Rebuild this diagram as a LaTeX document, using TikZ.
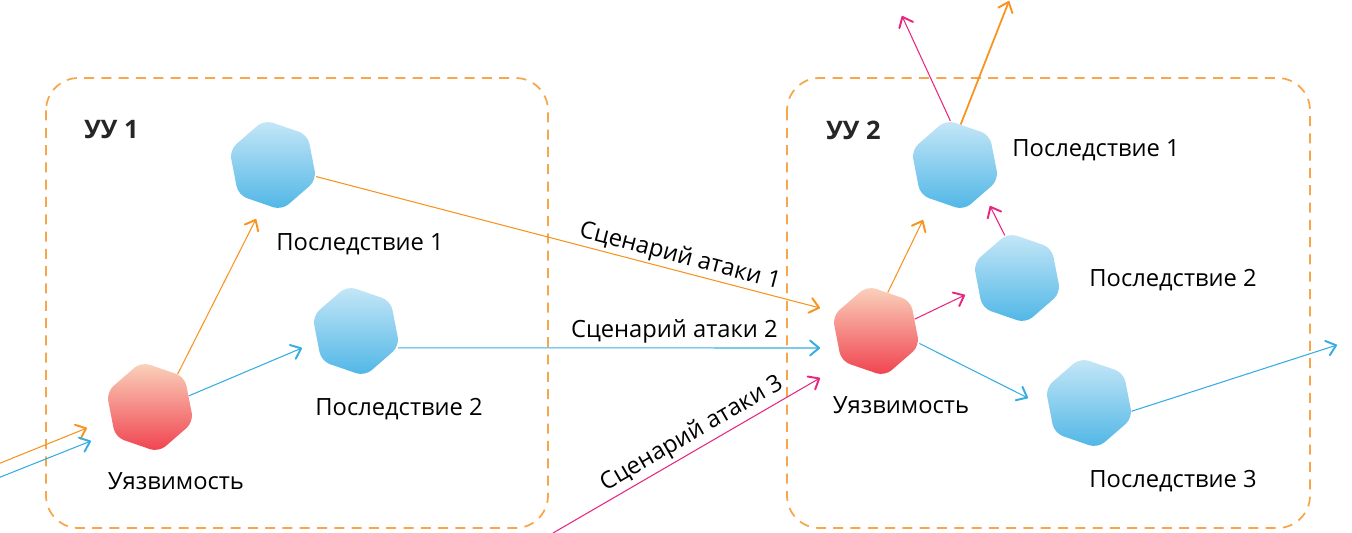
\documentclass[tikz,border=0pt]{standalone}
\usepackage{fontspec}
\setmainfont{Open Sans}
\usetikzlibrary{arrows.meta, shapes.geometric}
\definecolor{boxorange}{HTML}{F7A64B}
\definecolor{lineorange}{HTML}{F7931E}
\definecolor{lineblue}{HTML}{35ADE3}
\definecolor{linepink}{HTML}{E9267F}
\definecolor{hexbluetop}{HTML}{C6E7F7}
\definecolor{hexbluebottom}{HTML}{4FB6E6}
\definecolor{hexredtop}{HTML}{FAD4BD}
\definecolor{hexredbottom}{HTML}{F0414E}
\tikzset{
  hex/.style = {shape=regular polygon, regular polygon sides=6,
                    shape border rotate=-19, rounded corners=1.8mm,
                    minimum size=18.4mm, inner sep=0pt},
  effect/.style = {hex, top color=hexbluetop, bottom color=hexbluebottom},
  vuln/.style = {hex, top color=hexredtop, bottom color=hexredbottom},
  zone/.style = {draw=boxorange, dash pattern=on 2mm off 1.46mm,
                    line width=1pt, rounded corners=6.5mm},
  caption/.style = {font=\fontsize{13.5}{16}\selectfont, inner sep=0pt, text=black},
  zonetitle/.style = {font=\fontsize{14.5}{17}\selectfont\bfseries, inner sep=0pt, text=black!85},
  link/.style = {-{Straight Barb[length=1.8mm, width=3mm, line width=1.1pt, round]}, line width=0.6pt},
  orangelink/.style = {link, lineorange},
  bluelink/.style = {link, lineblue},
  pinklink/.style = {link, linepink}
}

\begin{document}
\begin{tikzpicture}
  [
  x = 0.02cm,
  y = -0.02cm
  ]
\useasboundingbox (0,0) rectangle (1352,533);

% zones
\draw[zone] (46,78) rectangle (548,528);
\draw[zone] (787,78) rectangle (1310,528);
\node[zonetitle, anchor=west] (titleone) at (84,130) {УУ 1};
\node[zonetitle, anchor=west] (titletwo) at (826,130) {УУ 2};

% first device
\node[vuln] (vulnone) at (150,407) {};
\node[effect] (effectoneone) at (273,165) {};
\node[effect] (effectonetwo) at (356,331) {};
\node[caption] (vulnonetext) at (176,481) {Уязвимость};
\node[caption] (effectoneonetext) at (360,244) {Последствие 1};
\node[caption] (effectonetwotext) at (399,409) {Последствие 2};

% second device
\node[vuln] (vulntwo) at (876,331) {};
\node[effect] (effecttwoone) at (955,165) {};
\node[effect] (effecttwotwo) at (1017,278) {};
\node[effect] (effecttwothree) at (1089,403) {};
\node[caption] (vulntwotext) at (901,405) {Уязвимость};
\node[caption] (effecttwoonetext) at (1096,150) {Последствие 1};
\node[caption] (effecttwotwotext) at (1173,280) {Последствие 2};
\node[caption] (effecttwothreetext) at (1173,481) {Последствие 3};

% free ends
\coordinate (inorange) at (-2,464);
\coordinate (inblue) at (-2,478);
\coordinate (inpink) at (553,533);
\coordinate (tiporange) at (87,428);
\coordinate (tipblue) at (91,441);
\coordinate (upone) at (256,219);
\coordinate (uptwo) at (302,348);
\coordinate (scenone) at (820,308);
\coordinate (scentwo) at (820,348);
\coordinate (scenthree) at (820,378);
\coordinate (vulnup) at (923,220);
\coordinate (vulnright) at (965,295);
\coordinate (vulndown) at (1028,398);
\coordinate (twoup) at (990,206);
\coordinate (outpink) at (902,16);
\coordinate (outorange) at (1009,1);
\coordinate (outblue) at (1337,345);

\draw[orangelink] (inorange) -- (tiporange);
\draw[bluelink] (inblue) -- (tipblue);
\draw[orangelink] (vulnone.50) -- (upone);
\draw[bluelink] (vulnone.16) -- (uptwo);
\draw[orangelink] (effectoneone.-15) -- (scenone)
	node[caption, sloped, above=1pt, pos=0.715] (scenonetext) {Сценарий атаки 1};
\draw[bluelink] (effectonetwo.-22) -- (scentwo)
	node[caption, above=2.5pt, pos=0.655] (scentwotext) {Сценарий атаки 2};
\draw[pinklink] (inpink) -- (scenthree)
	node[caption, sloped, above=2pt, pos=0.55] (scenthreetext) {Сценарий атаки 3};
\draw[orangelink] (vulntwo.73) -- (vulnup);
\draw[pinklink] (vulntwo.17) -- (vulnright);
\draw[bluelink] (vulntwo.-16) -- (vulndown);
\draw[pinklink] (effecttwotwo.106) -- (twoup);
\draw[pinklink] (effecttwoone.96) -- (outpink);
\draw[orangelink, line width=1pt] (effecttwoone.82) -- (outorange);
\draw[bluelink] (effecttwothree.-11) -- (outblue);

\end{tikzpicture}
\end{document}
